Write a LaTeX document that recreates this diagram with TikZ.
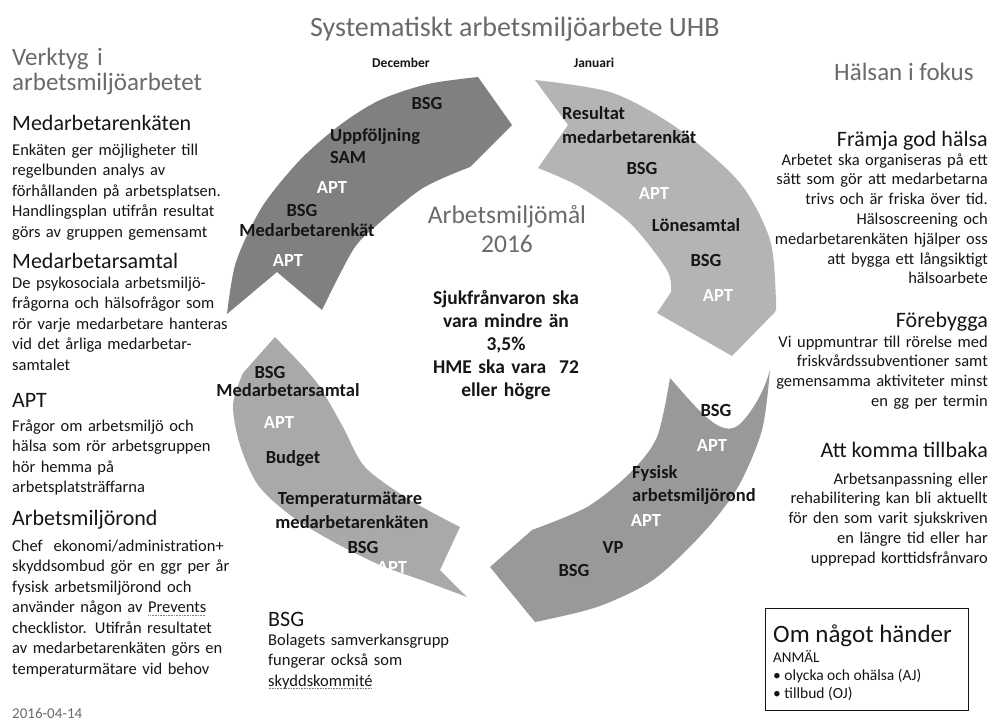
\documentclass[tikz,border=0pt]{standalone}
\usepackage{fontspec}
\setmainfont{Carlito}
\definecolor{tlgray}{HTML}{808080}
\definecolor{trgray}{HTML}{B4B4B4}
\definecolor{brgray}{HTML}{999999}
\definecolor{blgray}{HTML}{A9A9A9}
\definecolor{titlegray}{HTML}{6A6A6A}
\definecolor{txt}{HTML}{151515}
\newcommand\mydotul[1]{\leavevmode\setbox2\hbox{#1}\rlap{\raisebox{-3pt}{\hbox to \wd2{\color{gray}\leaders\hbox to 1.6pt{\hss\vrule width 0.8pt height 0.8pt\hss}\hfill}}}\box2}
\begin{document}
\begin{tikzpicture}[x=1pt,y=-1pt,
  lab/.style={font=\bfseries\fontsize{18.5}{22}\selectfont, text=txt, inner sep=0pt, anchor=base},
  wlab/.style={lab, text=white},
  llab/.style={lab, anchor=base west},
  mon/.style={font=\bfseries\fontsize{13.5}{16}\selectfont, text=txt, inner sep=0pt, anchor=base},
  head/.style={font=\fontsize{22}{26}\selectfont, text=txt, inner sep=0pt, anchor=base west},
  rhead/.style={head, anchor=base east},
  body/.style={font=\fontsize{16.5}{20.5}\selectfont, text=txt, inner sep=0pt, anchor=base west, text width=250pt, align=left},
  rbody/.style={font=\fontsize{16.5}{19.8}\selectfont, text=txt, inner sep=0pt, anchor=base east, text width=280pt, align=right},
  big/.style={font=\fontsize{25}{25}\selectfont, text=titlegray, inner sep=0pt},
]
\useasboundingbox (0,0) rectangle (996,720);

% ---------- arrows ----------
\fill[tlgray] plot[smooth] coordinates {(227,314) (236,262) (262,207) (300,160) (340,125) (380,100) (428,84) (478,77)}
  -- (512,125) -- (470,167)
  -- plot[smooth] coordinates {(470,167) (423,188) (377,225) (353,250) (322,310)}
  -- (277,272) -- cycle;
\fill[trgray] plot[smooth] coordinates {(535,80) (613,93) (680,130) (740,183) (770,240) (776,300) (775,312)}
  -- (732,356) -- (657,313)
  -- plot[smooth] coordinates {(671,292) (667,270) (630,223) (580,187) (538,168)}
  -- (568,125) -- cycle;
\fill[brgray] plot[smooth] coordinates {(770,370) (762,430) (738,487) (703,533) (653,580) (597,607) (535,622)}
  -- (490,567)
  -- plot[smooth] coordinates {(532,530) (587,507) (630,473) (657,437) (670,378)}
  .. controls (700,412) and (722,440) .. (740,424)
  .. controls (752,412) and (764,392) .. (770,370) -- cycle;
\fill[blgray] plot[smooth] coordinates {(467,597) (427,582) (380,565) (330,540) (290,515) (258,485) (240,445) (233,405) (243,373)}
  -- (275,337)
  -- plot[smooth] coordinates {(300,363) (320,387) (343,427) (365,467) (410,500) (460,527)}
  -- (440,570) -- cycle;

% ---------- title ----------
\node[big, font=\fontsize{28}{28}\selectfont, anchor=base west] (title) at (310,36) {Systematiskt arbetsmiljöarbete UHB};
\node[mon] (dec) at (401,67) {December};
\node[mon] (jan) at (594,67) {Januari};

% ---------- arrow labels ----------
\node[lab] (tl1) at (427,109) {BSG};
\node[llab] (tl2) at (330,141) {Uppföljning};
\node[llab] (tl3) at (330,163) {SAM};
\node[wlab] (tl4) at (332,193) {APT};
\node[lab] (tl5) at (302,216) {BSG};
\node[lab] (tl6) at (307,236) {Medarbetarenkät};
\node[wlab] (tl7) at (288,266) {APT};

\node[llab] (tr1) at (562,119) {Resultat};
\node[llab] (tr2) at (562,143) {medarbetarenkät};
\node[lab] (tr3) at (642,174) {BSG};
\node[wlab] (tr4) at (654,199) {APT};
\node[lab] (tr5) at (696,231) {Lönesamtal};
\node[lab] (tr6) at (706,266) {BSG};
\node[wlab] (tr7) at (718,301) {APT};

\node[lab] (br1) at (716,416) {BSG};
\node[wlab] (br2) at (712,451) {APT};
\node[llab] (br3) at (632,478) {Fysisk};
\node[llab] (br4) at (632,501) {arbetsmiljörond};
\node[wlab] (br5) at (646,526) {APT};
\node[lab] (br6) at (613,553) {VP};
\node[lab] (br7) at (574,576) {BSG};

\node[lab] (bl1) at (270,378) {BSG};
\node[lab] (bl2) at (288,396) {Medarbetarsamtal};
\node[wlab] (bl3) at (279,428) {APT};
\node[lab] (bl4) at (293,463) {Budget};
\node[lab] (bl5) at (350,504) {Temperaturmätare};
\node[lab] (bl6) at (352,528) {medarbetarenkäten};
\node[lab] (bl7) at (363,553) {BSG};
\node[wlab] (bl8) at (392,573) {APT};

% ---------- centre ----------
\node[big, font=\fontsize{25.5}{29}\selectfont, anchor=base, text width=220pt, align=center] (goal) at (507,223) {Arbetsmiljömål\\2016};
\node[font=\bfseries\fontsize{19.5}{23}\selectfont, text=txt, inner sep=0pt, anchor=base, text width=220pt, align=center] (goaltxt) at (506,304)
  {Sjukfrånvaron ska\\vara mindre än\\3,5\%\\HME ska vara~ 72\\eller högre};

% ---------- left column ----------
\node[big, anchor=base west, text width=250pt, align=left] (verk) at (12,65) {Verktyg i\\arbetsmiljöarbetet};
\node[head] (h1) at (12,130) {Medarbetarenkäten};
\node[body] (b1) at (12,155) {Enkäten ger möjligheter till\\regelbunden analys av\\förhållanden på arbetsplatsen.\\Handlingsplan utifrån resultat\\görs av gruppen gemensamt};
\node[head] (h2) at (12,268) {Medarbetarsamtal};
\node[body] (b2) at (12,288) {De psykosociala arbetsmiljö-\\frågorna och hälsofrågor som\\rör varje medarbetare hanteras\\vid det årliga medarbetar-\\samtalet};
\node[head] (h3) at (12,407) {APT};
\node[body] (b3) at (12,431) {Frågor om arbetsmiljö och\\hälsa som rör arbetsgruppen\\hör hemma på\\arbetsplatsträffarna};
\node[head] (h4) at (12,525) {Arbetsmiljörond};
\node[body] (b4) at (12,551) {Chef\ \ ekonomi/administration+\\skyddsombud gör en ggr per år\\fysisk arbetsmiljörond och\\använder någon av \mydotul{Prevents}\\checklistor. Utifrån resultatet\\av medarbetarenkäten görs en\\temperaturmätare vid behov};
\node[font=\fontsize{15}{15}\selectfont, text=titlegray, inner sep=0pt, anchor=base west] (date) at (12,718) {2016-04-14};

% ---------- BSG ----------
\node[head] (h5) at (268,626) {BSG};
\node[body] (b5) at (268,645) {Bolagets samverkansgrupp\\fungerar också som\\\mydotul{skyddskommité}};

% ---------- right column ----------
\node[big, anchor=base west] (hals) at (834,80) {Hälsan i fokus};
\node[rhead] (r1) at (988,146) {Främja god hälsa};
\node[rbody] (rb1) at (988,165) {Arbetet ska organiseras på ett\\sätt som gör att medarbetarna\\trivs och är friska över tid.\\Hälsoscreening och\\medarbetarenkäten hjälper oss\\att bygga ett långsiktigt\\hälsoarbete};
\node[rhead] (r2) at (988,327) {Förebygga};
\node[rbody] (rb2) at (988,347) {Vi uppmuntrar till rörelse med\\friskvårdssubventioner samt\\gemensamma aktiviteter minst\\en gg per termin};
\node[rhead] (r3) at (988,457) {Att komma tillbaka};
\node[rbody] (rb3) at (988,484) {Arbetsanpassning eller\\rehabilitering kan bli aktuellt\\för den som varit sjukskriven\\en längre tid eller har\\upprepad korttidsfrånvaro};

% ---------- box ----------
\node[draw=txt, line width=0.8pt, minimum width=203pt, minimum height=102pt, inner sep=0pt, anchor=north west] (ombox) at (765,608) {};
\node[font=\fontsize{25}{25}\selectfont, text=txt, inner sep=0pt, anchor=base west] (om1) at (773,642) {Om något händer};
\node[font=\fontsize{15}{15}\selectfont, text=txt, inner sep=0pt, anchor=base west] (om2) at (773,662) {ANMÄL};
\node[font=\fontsize{15.5}{15.5}\selectfont, text=txt, inner sep=0pt, anchor=base west] (om3) at (773,680) {• olycka och ohälsa (AJ)};
\node[font=\fontsize{15.5}{15.5}\selectfont, text=txt, inner sep=0pt, anchor=base west] (om4) at (773,698) {• tillbud (OJ)};
\end{tikzpicture}
\end{document}
